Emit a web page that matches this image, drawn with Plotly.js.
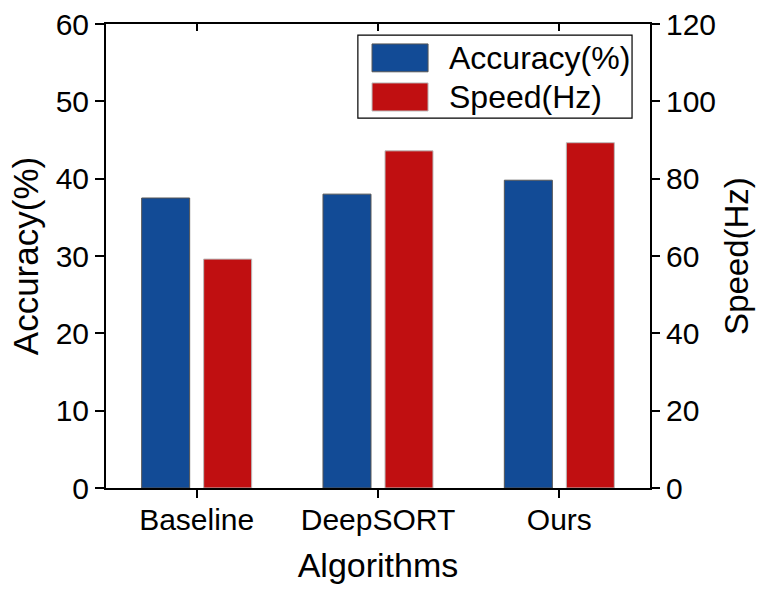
<!DOCTYPE html>
<html>
<head>
<meta charset="utf-8">
<script src="https://cdn.plot.ly/plotly-3.0.1.min.js"></script>
<style>html,body{margin:0;padding:0;background:#fff;}#chart{width:764px;height:591px;}</style>
</head>
<body>
<div id="chart"></div>
<script>
const categories = ["Baseline", "DeepSORT", "Ours"];
const accuracy = [37.5, 38.0, 39.8];   // %
const speed = [59.2, 87.2, 89.3];      // Hz
const seriesNames = ["Accuracy(%)", "Speed(Hz)"];
const leftTicks = [0, 10, 20, 30, 40, 50, 60];
const rightTicks = [0, 20, 40, 60, 80, 100, 120];

const BLUE = "#124B96";
const RED = "#C00F11";
const FONT = "Liberation Sans, Arial, Helvetica, sans-serif";

const traces = [
  {
    type: "bar", x: categories, y: accuracy, name: seriesNames[0],
    xaxis: "x", yaxis: "y", alignmentgroup: "g", offsetgroup: "a",
    marker: {color: BLUE, line: {color: "#555555", width: 1}},
    showlegend: false, hoverinfo: "x+y"
  },
  {
    type: "bar", x: categories, y: speed, name: seriesNames[1],
    xaxis: "x", yaxis: "y2", alignmentgroup: "g", offsetgroup: "b",
    marker: {color: RED, line: {color: "#bbbbbb", width: 1}},
    showlegend: false, hoverinfo: "x+y"
  },
  {
    type: "scatter", mode: "markers", x: categories, y: categories.map(() => null),
    xaxis: "x2", yaxis: "y", showlegend: false, hoverinfo: "skip"
  }
];

// legend drawn in paper coordinates
const lg = {x0: 0.463, x1: 0.967, y0: 0.797, y1: 0.976,
            sx0: 0.489, sx1: 0.592, tx: 0.627,
            rows: [{y0: 0.897, y1: 0.957, yc: 0.927}, {y0: 0.8125, y1: 0.873, yc: 0.843}]};
const legendColors = [BLUE, RED];
const legendLines = ["#555555", "#bbbbbb"];
const shapes = [{type: "rect", xref: "paper", yref: "paper", x0: lg.x0, x1: lg.x1, y0: lg.y0, y1: lg.y1,
                 line: {color: "#000", width: 1.2}, fillcolor: "rgba(0,0,0,0)"}];
const annotations = [];
seriesNames.forEach((n, i) => {
  const r = lg.rows[i];
  shapes.push({type: "rect", xref: "paper", yref: "paper", x0: lg.sx0, x1: lg.sx1, y0: r.y0, y1: r.y1,
               line: {color: legendLines[i], width: 1}, fillcolor: legendColors[i]});
  annotations.push({xref: "paper", yref: "paper", x: lg.tx, y: r.yc, xanchor: "left", yanchor: "middle",
                    text: n, showarrow: false, font: {family: FONT, size: 32, color: "#000"}});
});

const axisCommon = {
  showline: true, linecolor: "#000", linewidth: 2, showgrid: false, zeroline: false,
  ticks: "outside", tickcolor: "#000", tickwidth: 2, ticklen: 8,
  tickfont: {family: FONT, size: 30, color: "#000"}
};

const layout = {
  width: 764, height: 591,
  margin: {l: 106, r: 114, t: 24, b: 103},
  paper_bgcolor: "#fff", plot_bgcolor: "#fff",
  font: {family: FONT, color: "#000"},
  barmode: "group", bargap: 0.316, bargroupgap: 0.226,
  xaxis: Object.assign({}, axisCommon, {
    type: "category", categoryarray: categories, range: [-0.5, 2.5],
    ticklabelstandoff: -4,
    title: {text: "Algorithms", font: {family: FONT, size: 34, color: "#000"}, standoff: 18}
  }),
  xaxis2: Object.assign({}, axisCommon, {
    type: "category", categoryarray: categories, range: [-0.5, 2.5],
    overlaying: "x", side: "top", anchor: "y", ticks: "inside", ticklen: 7, showticklabels: false
  }),
  yaxis: Object.assign({}, axisCommon, {
    range: [0, 60], tickvals: leftTicks, ticktext: leftTicks.map(String), ticklen: 9,
    title: {text: seriesNames[0], font: {family: FONT, size: 35, color: "#000"}, standoff: 6}
  }),
  yaxis2: Object.assign({}, axisCommon, {
    range: [0, 120], tickvals: rightTicks, ticktext: rightTicks.map(String),
    overlaying: "y", side: "right", anchor: "x",
    title: {text: seriesNames[1], font: {family: FONT, size: 33, color: "#000"}, standoff: 10}
  }),
  shapes: shapes,
  annotations: annotations
};

Plotly.newPlot("chart", traces, layout, {displayModeBar: false, staticPlot: true});
</script>
</body>
</html>
